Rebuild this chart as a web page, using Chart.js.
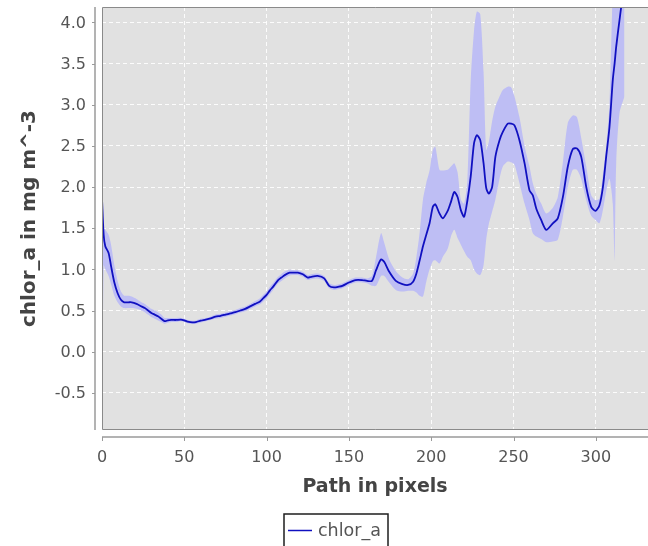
<!DOCTYPE html>
<html>
<head>
<meta charset="utf-8">
<script src="https://cdn.jsdelivr.net/npm/chart.js@4"></script>
<style>
  html, body { margin: 0; padding: 0; background: #fff; }
</style>
</head>
<body>
<canvas id="chlorChart" width="648" height="546"></canvas>
<script>
// path position (pixels along transect)
const pathX = [
  0, 1, 2, 4, 5.5, 7.5, 9.5, 11.5, 13.5, 16, 18, 21, 24, 26, 28, 30, 32, 34, 36, 38,
  40, 42, 45, 48, 50, 52, 55, 57, 60, 63, 66, 69, 72, 75, 78, 81, 84, 87, 90, 93,
  96, 98, 100, 102, 104, 107, 109, 111, 114, 117, 119, 122, 125, 127, 131, 135, 138, 141, 144, 146,
  150, 154, 158, 161, 164, 166.5, 169.5, 171.5, 174.5, 178.5, 182.5, 186, 189, 191, 193, 195, 197, 199, 201, 202.5,
  205, 207, 210, 212, 214, 216, 218, 220, 222, 224, 226, 227.7, 229.8, 231.8, 233.4, 235, 237, 239, 241.5, 243.5,
  246.5, 248.6, 250.6, 253.6, 256.7, 259.7, 261.7, 263.8, 266.8, 269.9, 273.9, 276.9, 280, 283, 286, 288.5, 291.1, 294.2, 297.2, 299.8,
  302.2, 304.3, 306.3, 308.3, 310.3, 311.4, 312.4, 314.4, 317.4
];

// chlor_a mean
const chlorMean = [
  1.86, 1.42, 1.28, 1.2, 1.04, 0.84, 0.71, 0.63, 0.6, 0.6, 0.6, 0.58, 0.55, 0.53, 0.5, 0.47, 0.45, 0.43, 0.4, 0.37,
  0.38, 0.385, 0.385, 0.39, 0.38, 0.365, 0.355, 0.36, 0.377, 0.39, 0.405, 0.425, 0.435, 0.45, 0.465, 0.48, 0.5, 0.52, 0.55, 0.58,
  0.61, 0.65, 0.69, 0.745, 0.79, 0.87, 0.9, 0.93, 0.96, 0.96, 0.96, 0.94, 0.9, 0.91, 0.92, 0.89, 0.8, 0.78, 0.79, 0.8,
  0.84, 0.87, 0.87, 0.86, 0.86, 0.99, 1.12, 1.09, 0.97, 0.86, 0.82, 0.81, 0.85, 0.95, 1.11, 1.28, 1.42, 1.56, 1.76, 1.79,
  1.68, 1.62, 1.71, 1.82, 1.94, 1.88, 1.72, 1.64, 1.84, 2.13, 2.53, 2.63, 2.57, 2.29, 1.99, 1.92, 2.0, 2.37, 2.57, 2.67,
  2.77, 2.77, 2.75, 2.57, 2.29, 1.96, 1.9, 1.74, 1.6, 1.48, 1.56, 1.62, 1.88, 2.25, 2.46, 2.47, 2.37, 2.0, 1.76, 1.71,
  1.78, 2.0, 2.37, 2.73, 3.3, 3.5, 3.71, 4.03, 4.5
];

// lower edge of the spread band
const chlorLow = [
  -1.2, 1.05, 1.0, 0.92, 0.82, 0.68, 0.6, 0.55, 0.53, 0.53, 0.53, 0.52, 0.5, 0.48, 0.45, 0.42, 0.4, 0.38, 0.36, 0.34,
  0.35, 0.36, 0.36, 0.37, 0.36, 0.345, 0.335, 0.34, 0.355, 0.37, 0.385, 0.4, 0.41, 0.425, 0.44, 0.455, 0.475, 0.49, 0.52, 0.55,
  0.575, 0.61, 0.65, 0.7, 0.75, 0.83, 0.86, 0.89, 0.925, 0.93, 0.93, 0.91, 0.87, 0.88, 0.89, 0.86, 0.77, 0.75, 0.76, 0.77,
  0.81, 0.84, 0.84, 0.83, 0.8, 0.8, 0.92, 0.92, 0.84, 0.75, 0.73, 0.74, 0.74, 0.72, 0.68, 0.67, 0.85, 1.0, 1.1, 1.11,
  1.07, 1.15, 1.25, 1.4, 1.48, 1.38, 1.3, 1.22, 1.15, 1.11, 1.0, 0.95, 0.93, 1.05, 1.36, 1.55, 1.7, 1.85, 2.1, 2.25,
  2.31, 2.3, 2.27, 2.05, 1.8, 1.6, 1.44, 1.4, 1.37, 1.33, 1.34, 1.36, 1.64, 2.0, 2.21, 2.21, 2.1, 1.84, 1.65, 1.6,
  1.56, 1.72, 1.95, 2.1, 1.8, 1.11, 2.3, 2.9, 3.1
];

// upper edge of the spread band
const chlorHigh = [
  2.0, 1.5, 1.48, 1.42, 1.3, 1.05, 0.86, 0.73, 0.68, 0.68, 0.67, 0.64, 0.6, 0.58, 0.55, 0.52, 0.5, 0.48, 0.45, 0.41,
  0.41, 0.41, 0.41, 0.41, 0.4, 0.385, 0.375, 0.38, 0.4, 0.41, 0.425, 0.45, 0.46, 0.475, 0.49, 0.505, 0.53, 0.55, 0.58, 0.615,
  0.65, 0.69, 0.73, 0.79, 0.835, 0.91, 0.945, 0.975, 0.995, 0.99, 0.99, 0.97, 0.93, 0.94, 0.95, 0.92, 0.83, 0.81, 0.82, 0.83,
  0.87, 0.9, 0.9, 0.89, 0.92, 1.15, 1.44, 1.32, 1.12, 0.98, 0.9, 0.88, 0.95, 1.15, 1.45, 1.85, 2.05, 2.2, 2.45, 2.49,
  2.21, 2.2, 2.21, 2.25, 2.29, 2.18, 1.85, 1.8, 2.09, 3.3, 3.9, 4.13, 4.1, 3.4, 2.45, 2.55, 2.8, 2.98, 3.1, 3.18,
  3.22, 3.21, 3.1, 2.85, 2.5, 2.25, 2.05, 1.92, 1.8, 1.68, 1.75, 1.88, 2.3, 2.78, 2.87, 2.85, 2.6, 2.25, 1.9, 1.84,
  1.86, 2.15, 2.5, 3.0, 4.4, 4.6, 4.8, 5.0, 5.2
];

const seriesName = "chlor_a";
const xTitle = "Path in pixels";
const yTitle = "chlor_a in mg m^-3";
const xRange = [0, 331.7];
const yRange = [-0.952, 4.188];
const xStep = 50;
const yStep = 0.5;

const lineColor = "#1010c0";
const bandColor = "#bebef4";
const plotBg = "#e1e1e1";
const fontFamily = "'DejaVu Sans', sans-serif";

function toPoints(values) {
  return pathX.map((x, i) => ({ x: x, y: values[i] }));
}

// gray plot area, outline and the detached axis lines
const plotFrame = {
  id: "plotFrame",
  beforeDraw(chart) {
    const { ctx, chartArea: a } = chart;
    ctx.save();
    ctx.fillStyle = plotBg;
    ctx.fillRect(a.left, a.top, a.right - a.left, a.bottom - a.top);
    ctx.restore();
  },
  afterDraw(chart) {
    const { ctx, chartArea: a, scales } = chart;
    ctx.save();
    ctx.lineWidth = 1;
    ctx.strokeStyle = "#8a8a8a";
    ctx.beginPath();
    ctx.moveTo(a.right, a.top + 0.5);
    ctx.lineTo(a.left + 0.5, a.top + 0.5);
    ctx.lineTo(a.left + 0.5, a.bottom - 0.5);
    ctx.lineTo(a.right, a.bottom - 0.5);
    ctx.stroke();

    const axisX = a.left - 7;
    const axisY = a.bottom + 7;
    ctx.strokeStyle = "#9a9a9a";
    ctx.lineWidth = 1.5;
    ctx.beginPath();
    ctx.moveTo(axisX, a.top);
    ctx.lineTo(axisX, a.bottom);
    ctx.moveTo(a.left, axisY);
    ctx.lineTo(a.right, axisY);
    ctx.stroke();

    ctx.lineWidth = 1;
    ctx.beginPath();
    scales.y.ticks.forEach((t) => {
      const p = Math.round(scales.y.getPixelForValue(t.value)) + 0.5;
      ctx.moveTo(axisX - 3, p);
      ctx.lineTo(axisX, p);
    });
    scales.x.ticks.forEach((t) => {
      const p = Math.round(scales.x.getPixelForValue(t.value)) + 0.5;
      ctx.moveTo(p, axisY);
      ctx.lineTo(p, axisY + 4);
    });
    ctx.stroke();
    ctx.restore();
  },
};

// boxed legend under the axis title
const boxedLegend = {
  id: "boxedLegend",
  afterDraw(chart) {
    const ds = chart.data.datasets[2];
    const ctx = chart.ctx;
    ctx.save();
    ctx.strokeStyle = "#1e1e1e";
    ctx.lineWidth = 1.5;
    ctx.strokeRect(284, 514, 104, 40);
    ctx.strokeStyle = ds.borderColor;
    ctx.lineWidth = 1.5;
    ctx.beginPath();
    ctx.moveTo(288, 530.5);
    ctx.lineTo(312, 530.5);
    ctx.stroke();
    ctx.fillStyle = "#555";
    ctx.font = "17.5px " + fontFamily;
    ctx.textBaseline = "middle";
    ctx.textAlign = "left";
    ctx.fillText(ds.label, 318, 531);
    ctx.restore();
  },
};

new Chart(document.getElementById("chlorChart"), {
  type: "line",
  data: {
    datasets: [
      {
        label: "upper",
        data: toPoints(chlorHigh),
        borderWidth: 0,
        pointRadius: 0,
        fill: false,
        tension: 0.25,
        order: 2,
      },
      {
        label: "lower",
        data: toPoints(chlorLow),
        borderWidth: 0,
        pointRadius: 0,
        backgroundColor: bandColor,
        fill: "-1",
        tension: 0.25,
        order: 2,
      },
      {
        label: seriesName,
        data: toPoints(chlorMean),
        borderColor: lineColor,
        borderWidth: 1.8,
        pointRadius: 0,
        fill: false,
        tension: 0.25,
        order: 1,
      },
    ],
  },
  options: {
    responsive: false,
    animation: false,
    devicePixelRatio: 1,
    layout: { padding: { top: 7, right: 0, bottom: 0, left: 0 } },
    plugins: {
      legend: { display: false },
      tooltip: { enabled: false },
    },
    scales: {
      x: {
        type: "linear",
        min: xRange[0],
        max: xRange[1],
        grid: { color: "rgba(255,255,255,0.9)", lineWidth: 1, drawTicks: false },
        border: { display: false, dash: [4, 3] },
        ticks: {
          stepSize: xStep,
          includeBounds: false,
          padding: 18,
          color: "#555",
          font: { family: fontFamily, size: 16 },
          callback: (v) => v.toFixed(0),
        },
        title: {
          display: true,
          text: xTitle,
          color: "#444",
          font: { family: fontFamily, size: 19, weight: "bold" },
          padding: { top: 0, bottom: 47.6 },
        },
        afterFit(scale) {
          scale.height = 116;
          scale.paddingLeft = 0;
          scale.paddingRight = 0;
        },
      },
      y: {
        type: "linear",
        min: yRange[0],
        max: yRange[1],
        grid: { color: "rgba(255,255,255,0.9)", lineWidth: 1, drawTicks: false },
        border: { display: false, dash: [4, 3] },
        ticks: {
          stepSize: yStep,
          includeBounds: false,
          padding: 16,
          labelOffset: 1,
          color: "#555",
          font: { family: fontFamily, size: 16 },
          callback: (v) => v.toFixed(1),
        },
        title: {
          display: true,
          text: yTitle,
          color: "#444",
          font: { family: fontFamily, size: 20, weight: "bold" },
          padding: { top: 18, bottom: 0 },
        },
        afterFit(scale) {
          scale.width = 102;
          scale.paddingTop = 0;
          scale.paddingBottom = 0;
        },
      },
    },
  },
  plugins: [plotFrame, boxedLegend],
});
</script>
</body>
</html>
